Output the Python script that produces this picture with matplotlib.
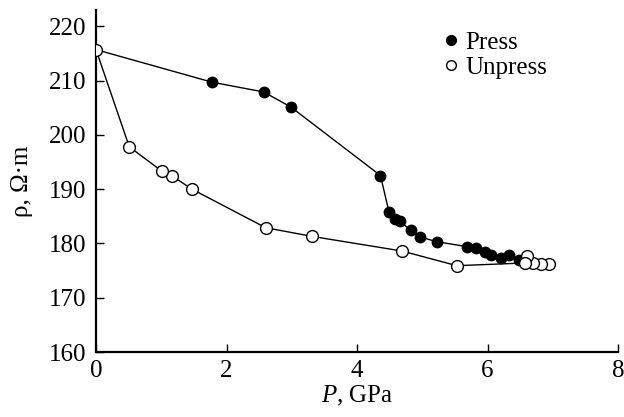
import matplotlib
matplotlib.use("Agg")
import matplotlib.pyplot as plt

# pressure (GPa) and resistivity (Ohm*m)
press_p = [0, 1.78, 2.57, 2.99, 4.36, 4.49, 4.59, 4.66, 4.82, 4.96, 5.23,
           5.69, 5.82, 5.96, 6.06, 6.21, 6.33, 6.48, 6.95]
press_rho = [215.7, 209.7, 207.9, 205.1, 192.5, 185.8, 184.5, 184.1, 182.4,
             181.2, 180.3, 179.4, 179.1, 178.5, 177.8, 177.4, 177.8, 177.0, 176.2]

unpress_p = [6.95, 6.82, 6.70, 6.60, 6.57, 5.53, 4.69, 3.31, 2.60, 1.47,
             1.17, 1.01, 0.51, 0]
unpress_rho = [176.2, 176.2, 176.4, 177.7, 176.4, 175.9, 178.6, 181.3, 182.9,
               190.0, 192.4, 193.3, 197.8, 215.7]

x_ticks = [0, 2, 4, 6, 8]
y_ticks = [160, 170, 180, 190, 200, 210, 220]

plt.rcParams["font.family"] = ["Liberation Serif", "DejaVu Serif"]
plt.rcParams["mathtext.fontset"] = "custom"
plt.rcParams["mathtext.it"] = "Liberation Serif:italic"
plt.rcParams["mathtext.rm"] = "Liberation Serif"

fig = plt.figure(figsize=(6.24, 4.17), dpi=100)
ax = fig.add_axes([96 / 624, 65 / 417, 522 / 624, 342 / 417])

ax.plot(press_p, press_rho, color="black", lw=1, zorder=1)
ax.plot(unpress_p, unpress_rho, color="black", lw=1, zorder=1)
ax.plot(press_p[1:], press_rho[1:], "o", color="black", ms=7.5, mec="black",
        ls="none", zorder=2)
ax.plot(unpress_p, unpress_rho, "o", mfc="white", mec="black", mew=1, ms=8.5,
        ls="none", zorder=3)

# proxy handles so the legend markers stay small
h1, = ax.plot([], [], "o", color="black", ms=7, ls="none", label="Press")
h2, = ax.plot([], [], "o", mfc="white", mec="black", mew=1, ms=7, ls="none",
              label="Unpress")
ax.legend(handles=[h1, h2], loc="upper left", bbox_to_anchor=(0.617, 1.0),
          frameon=False, fontsize=18, handletextpad=0.15, handlelength=0.9,
          labelspacing=0.1, borderaxespad=0.45)

ax.set_xlim(0, 8)
ax.set_ylim(160, 223)
ax.set_xticks(x_ticks)
ax.set_yticks(y_ticks)
ax.spines["top"].set_visible(False)
ax.spines["right"].set_visible(False)
for s in ("left", "bottom"):
    ax.spines[s].set_linewidth(1.6)
ax.tick_params(direction="in", length=6, width=1, labelsize=18)
ax.tick_params(axis="x", pad=6)
ax.tick_params(axis="y", pad=7)

ax.set_xlabel(r"$P$, GPa", fontsize=18, labelpad=1)
ax.set_ylabel("ρ, Ω·m", fontsize=18, labelpad=11)

fig.savefig("out.png", dpi=100)
